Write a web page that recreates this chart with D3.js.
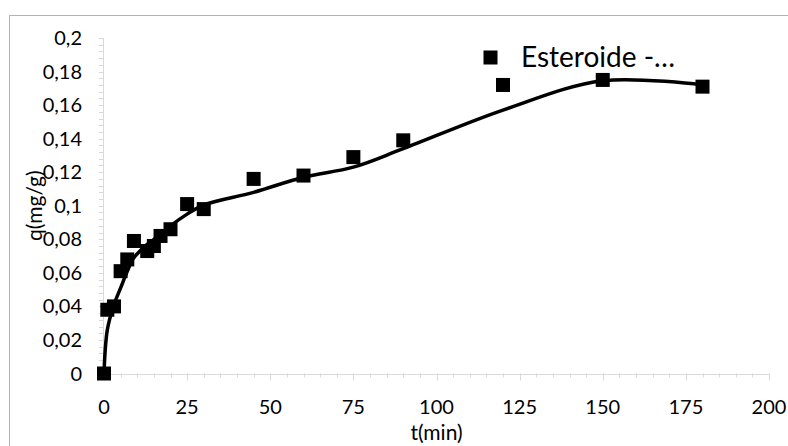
<!DOCTYPE html>
<html><head><meta charset="utf-8">
<script src="https://cdn.jsdelivr.net/npm/d3@7"></script>
<style>body{margin:0;background:#fff}svg{display:block}text{font-family:Lato,"Open Sans",sans-serif;fill:#000}</style>
</head><body><svg id="c" width="788" height="446"></svg>
<script>
const times = [0, 1, 3, 5, 7, 9, 13, 15, 17, 20, 25, 30, 45, 60, 75, 90, 120, 150, 180];
const observed = [0, 0.038, 0.040, 0.061, 0.068, 0.079, 0.073, 0.076, 0.082, 0.086, 0.101, 0.098, 0.116, 0.118, 0.129, 0.139, 0.172, 0.175, 0.171];
const fitted = [0, 0.026, 0.041, 0.051, 0.061, 0.069, 0.077, 0.080, 0.083, 0.088, 0.095, 0.1005, 0.108, 0.117, 0.123, 0.134, 0.157, 0.1745, 0.172];
const xTicks = [0, 25, 50, 75, 100, 125, 150, 175, 200];
const yTicks = [0, 0.02, 0.04, 0.06, 0.08, 0.1, 0.12, 0.14, 0.16, 0.18, 0.2];
const yTickLabels = ["0", "0,02", "0,04", "0,06", "0,08", "0,1", "0,12", "0,14", "0,16", "0,18", "0,2"];
const seriesName = "Esteroide -…";
const xTitle = "t(min)";
const yTitle = "q(mg/g)";

const svg = d3.select("#c");
const x = d3.scaleLinear().domain([0, 200]).range([104, 769]);
const y = d3.scaleLinear().domain([0, 0.2]).range([373.5, 38]);
const axisColor = "#d9d9d9";

// outer border
svg.append("rect").attr("x", 9.5).attr("y", 15.5).attr("width", 800).attr("height", 460)
  .attr("fill", "none").attr("stroke", "#b3b3b3").attr("stroke-width", 1);

// y axis minor ticks
const yMinor = d3.range(0, 51).map(i => i * 0.004);
svg.append("g").selectAll("line").data(yMinor).join("line")
  .attr("x1", x(0) - 5).attr("x2", x(0)).attr("y1", d => Math.round(y(d)) + 0.5).attr("y2", d => Math.round(y(d)) + 0.5)
  .attr("stroke", axisColor);
svg.append("line").attr("x1", x(0) - 0.5).attr("x2", x(0) - 0.5).attr("y1", y(0.2)).attr("y2", y(0))
  .attr("stroke", axisColor);

// x axis ticks
const xMinor = d3.range(0, 41).map(i => i * 5);
svg.append("g").selectAll("line").data(xMinor).join("line")
  .attr("x1", d => Math.round(x(d)) + 0.5).attr("x2", d => Math.round(x(d)) + 0.5)
  .attr("y1", y(0)).attr("y2", d => y(0) + (d % 25 === 0 ? 7 : 4))
  .attr("stroke", axisColor);
svg.append("line").attr("x1", x(0)).attr("x2", x(200)).attr("y1", Math.round(y(0)) + 0.5).attr("y2", Math.round(y(0)) + 0.5)
  .attr("stroke", axisColor);

// tick labels
svg.append("g").selectAll("text").data(yTicks).join("text")
  .attr("x", 82).attr("y", d => y(d) + 7).attr("text-anchor", "end")
  .attr("font-size", 20).text((d, i) => yTickLabels[i]);
svg.append("g").selectAll("text").data(xTicks).join("text")
  .attr("x", d => x(d)).attr("y", 414).attr("text-anchor", "middle")
  .attr("font-size", 20).text(d => d);

// axis titles
svg.append("text").attr("x", x(100)).attr("y", 440).attr("text-anchor", "middle")
  .attr("font-size", 21).text(xTitle);
svg.append("text").attr("transform", `translate(42,${(y(0) + y(0.2)) / 2}) rotate(-90)`)
  .attr("text-anchor", "middle").attr("font-size", 21).text(yTitle);

// fitted smooth line
const pts = times.map((t, i) => [t, fitted[i]]);
svg.append("path").datum(pts)
  .attr("d", d3.line().x(d => x(d[0])).y(d => y(d[1])).curve(d3.curveCatmullRom.alpha(0.5)))
  .attr("fill", "none").attr("stroke", "#000").attr("stroke-width", 3.5);

// markers
const ms = 14;
svg.append("g").selectAll("rect").data(times.map((t, i) => [t, observed[i]])).join("rect")
  .attr("x", d => x(d[0]) - ms / 2).attr("y", d => y(d[1]) - ms / 2)
  .attr("width", ms).attr("height", ms).attr("fill", "#000");

// legend
svg.append("rect").attr("x", 483.5).attr("y", 50.5).attr("width", 14).attr("height", 14).attr("fill", "#000");
svg.append("text").attr("x", 521).attr("y", 66.5).attr("font-size", 28).text(seriesName);
</script></body></html>
